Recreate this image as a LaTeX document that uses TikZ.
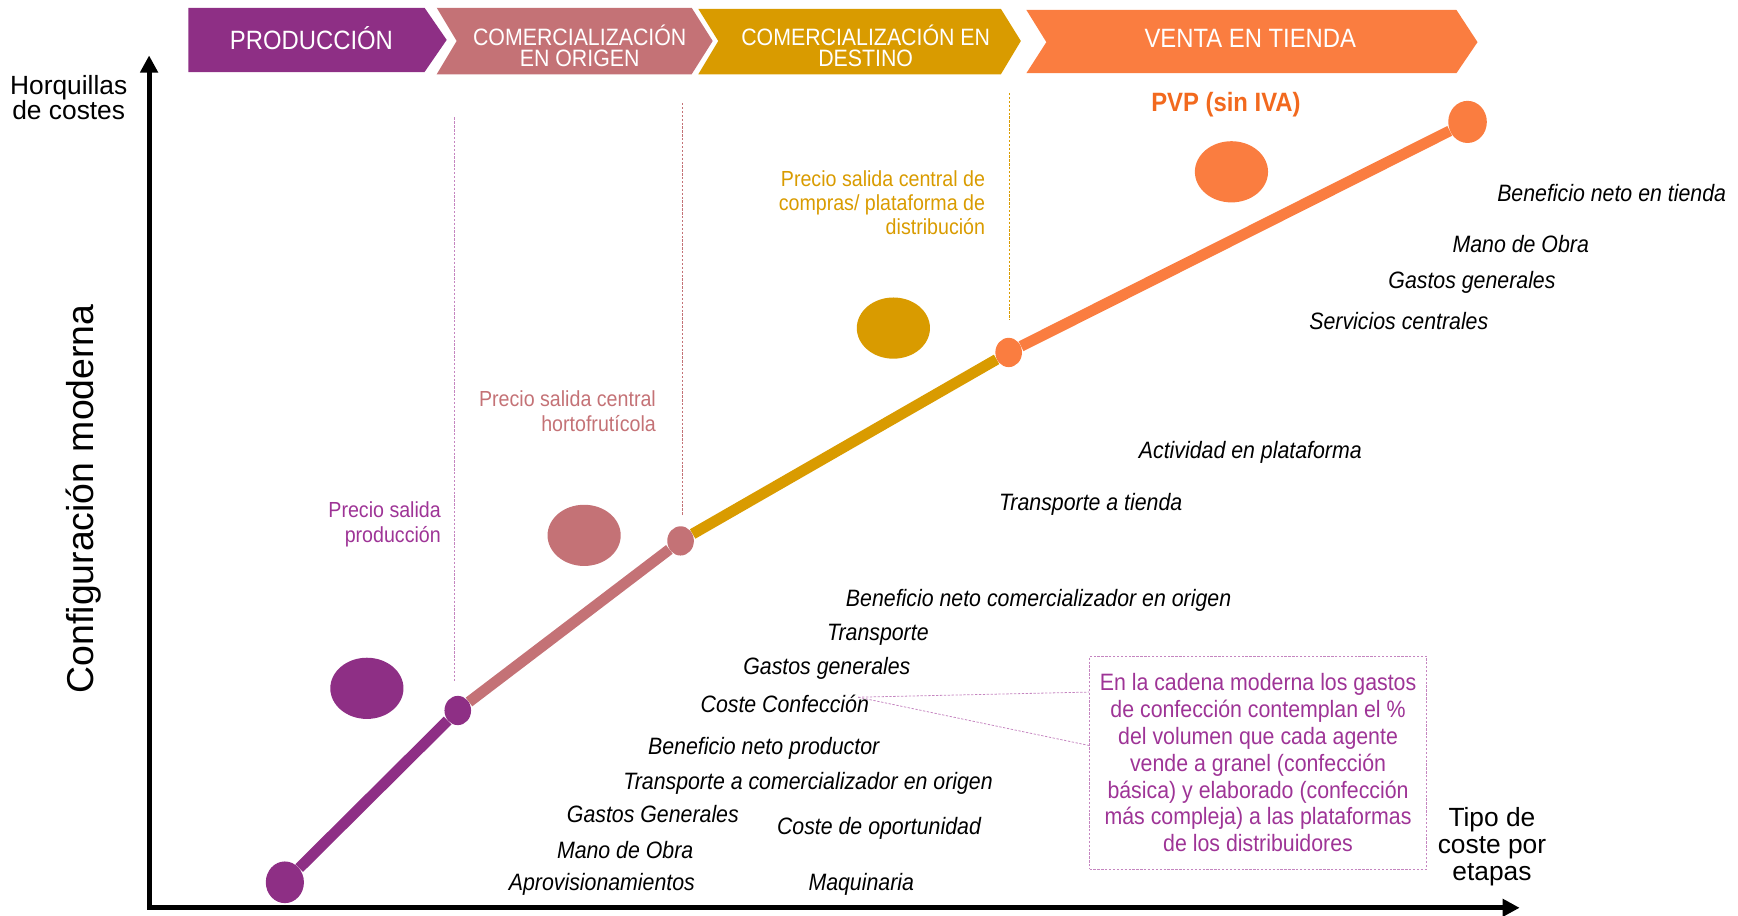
\documentclass[tikz,border=0pt]{standalone}
\usepackage{fontspec}
\setmainfont{Liberation Sans}
\newfontfamily\estrecha[FakeStretch=0.9]{Liberation Sans}
\usepackage{tikz}
\usetikzlibrary{shapes.geometric,arrows.meta,calc}

\definecolor{morado}{RGB}{142,47,133}
\definecolor{rosa}{RGB}{196,114,118}
\definecolor{oro}{RGB}{217,155,0}
\definecolor{naranja}{RGB}{250,125,64}
\definecolor{pvp}{RGB}{242,105,30}
\definecolor{nota}{RGB}{158,52,150}

\begin{document}
\begin{tikzpicture}[x=0.025cm,y=-0.025cm,
    coste/.style={font=\estrecha\itshape\fontsize{15.2}{17}\selectfont,inner sep=0pt},
    precio/.style={font=\estrecha\fontsize{14}{15.6}\selectfont,align=right,anchor=east,inner sep=0pt},
    etapa/.style={font=\estrecha\fontsize{17}{17}\selectfont,text=white,align=center},
    etapados/.style={font=\estrecha\fontsize{15.2}{13.5}\selectfont,text=white,align=center},
    eje/.style={line width=3.2pt,{Triangle[length=11pt,width=11pt]}-{Triangle[length=11pt,width=11pt]}},
    tramo/.style={line width=7pt},
    punto/.style={ellipse,inner sep=0pt,minimum width=0.6cm,minimum height=0.66cm},
    burbuja/.style={ellipse,inner sep=0pt,minimum width=1.65cm,minimum height=1.38cm},
    guia/.style={line width=0.5pt,dash pattern=on 1.5pt off 1pt}]
  \useasboundingbox (0,0) rectangle (1568,826);
  \begin{scope}
    \path[fill=morado] (170,7) -- (383,7) -- (403,36) -- (383,65) -- (170,65) -- cycle;
    \path[fill=rosa] (394,7) -- (624,7) -- (643,37) -- (624,67) -- (394,67) -- (412,37) -- cycle;
    \path[fill=oro] (630,8) -- (903,8) -- (921,37) -- (903,67) -- (630,67) -- (648,37) -- cycle;
    \path[fill=naranja] (926,9) -- (1314,9) -- (1333,38) -- (1314,66) -- (926,66) -- (944,38) -- cycle;

    \node[etapa] (prod) at (281,34) {PRODUCCIÓN};
    \node[etapados] (orig) at (523,41) {COMERCIALIZACIÓN\\EN ORIGEN};
    \node[etapados] (dest) at (781,41) {COMERCIALIZACIÓN EN\\DESTINO};
    \node[etapa] (tienda) at (1128,35) {VENTA EN TIENDA};

    \coordinate (ytop) at (134.5,50);
    \coordinate (origen) at (134.5,819);
    \coordinate (xfin) at (1371,819);
    \path[draw,eje] (ytop) -- (origen) -- (xfin);

    \node[align=center,font=\fontsize{16.9}{16}\selectfont] (horq) at (62,88) {Horquillas\\de costes};
    \node[align=center,font=\fontsize{16.9}{17.4}\selectfont] (tipo) at (1346,764) {Tipo de\\coste por\\etapas};
    \node[rotate=90,font=\fontsize{24}{24}\selectfont] (config) at (75,450) {Configuración moderna};

    \node[punto,fill=morado,minimum width=0.86cm,minimum height=0.94cm] (p0) at (257,796) {};
    \node[punto,fill=morado] (p1) at (413,641) {};
    \node[punto,fill=rosa] (p2) at (614,488) {};
    \node[punto,fill=naranja] (p3) at (910,318) {};
    \node[punto,fill=naranja,minimum width=0.87cm,minimum height=0.95cm] (p4) at (1324,110) {};

    \path[draw,tramo,morado] (p0) -- (p1);
    \path[draw,tramo,rosa] (p1) -- (p2);
    \path[draw,tramo,oro] (p2) -- (p3);
    \path[draw,tramo,naranja] (p3) -- (p4);

    \node[burbuja,fill=morado] (b1) at (331,621) {};
    \node[burbuja,fill=rosa] (b2) at (527,483) {};
    \node[burbuja,fill=oro] (b3) at (806,296) {};
    \node[burbuja,fill=naranja] (b4) at (1111,155) {};

    \coordinate (g1) at (410,106);
    \coordinate (g2) at (616,93);
    \coordinate (g3) at (911,84);
    \path[draw,guia,nota!60,shorten >=0.3cm] (g1) -- (g1 |- p1.north);
    \path[draw,guia,rosa,shorten >=0.25cm] (g2) -- (g2 |- p2.north);
    \path[draw,guia,oro,shorten >=0.4cm] (g3) -- (g3 |- p3.north);

    \node[precio,text=nota] (psp) at (398,473) {Precio salida\\producción};
    \node[precio,text=rosa] (psc) at (592,371) {Precio salida central\\hortofrutícola};
    \node[precio,text=oro] (psd) at (889,183) {Precio salida central de\\compras/ plataforma de\\distribución};
    \node[font=\estrecha\bfseries\fontsize{17}{17}\selectfont,text=pvp] (pvp) at (1106,94) {PVP (sin IVA)};

    \node[coste] (bnt) at (1454,174) {Beneficio neto en tienda};
    \node[coste] (mot) at (1372,220) {Mano de Obra};
    \node[coste] (ggt) at (1328,255) {Gastos generales};
    \node[coste] (sc) at (1262,290) {Servicios centrales};
    \node[coste] (ap) at (1128,408) {Actividad en plataforma};
    \node[coste] (tt) at (984,455) {Transporte a tienda};
    \node[coste] (bnc) at (937,542) {Beneficio neto comercializador en origen};
    \node[coste] (tr) at (792,573) {Transporte};
    \node[coste] (ggc) at (746,603) {Gastos generales};
    \node[coste] (cc) at (708,635) {Coste Confección};
    \node[coste] (bnp) at (689,675) {Beneficio neto productor};
    \node[coste] (tco) at (729,707) {Transporte a comercializador en origen};
    \node[coste] (ggp) at (589,734) {Gastos Generales};
    \node[coste] (co) at (793,747) {Coste de oportunidad};
    \node[coste] (mop) at (564,767) {Mano de Obra};
    \node[coste] (apr) at (543,798) {Aprovisionamientos};
    \node[coste] (maq) at (777,798) {Maquinaria};

    \node[draw=nota!60,guia,text=nota,align=center,font=\estrecha\fontsize{15.2}{17.3}\selectfont,
      minimum width=7.6cm,minimum height=4.8cm] (nota) at (1135,688)
      {En la cadena moderna los gastos\\de confección contemplan el \%\\del volumen que cada agente\\vende a granel (confección\\básica) y elaborado (confección\\más compleja) a las plataformas\\de los distribuidores};

    \coordinate (cco) at ($(cc.east)+(-10,-6)$);
    \coordinate (n1) at ($(nota.north west)!0.17!(nota.south west)$);
    \coordinate (n2) at ($(nota.north west)!0.42!(nota.south west)$);
    \path[draw,guia,nota!60] (cco) -- (n1);
    \path[draw,guia,nota!60] (cco) -- (n2);
  \end{scope}
\end{tikzpicture}
\end{document}
